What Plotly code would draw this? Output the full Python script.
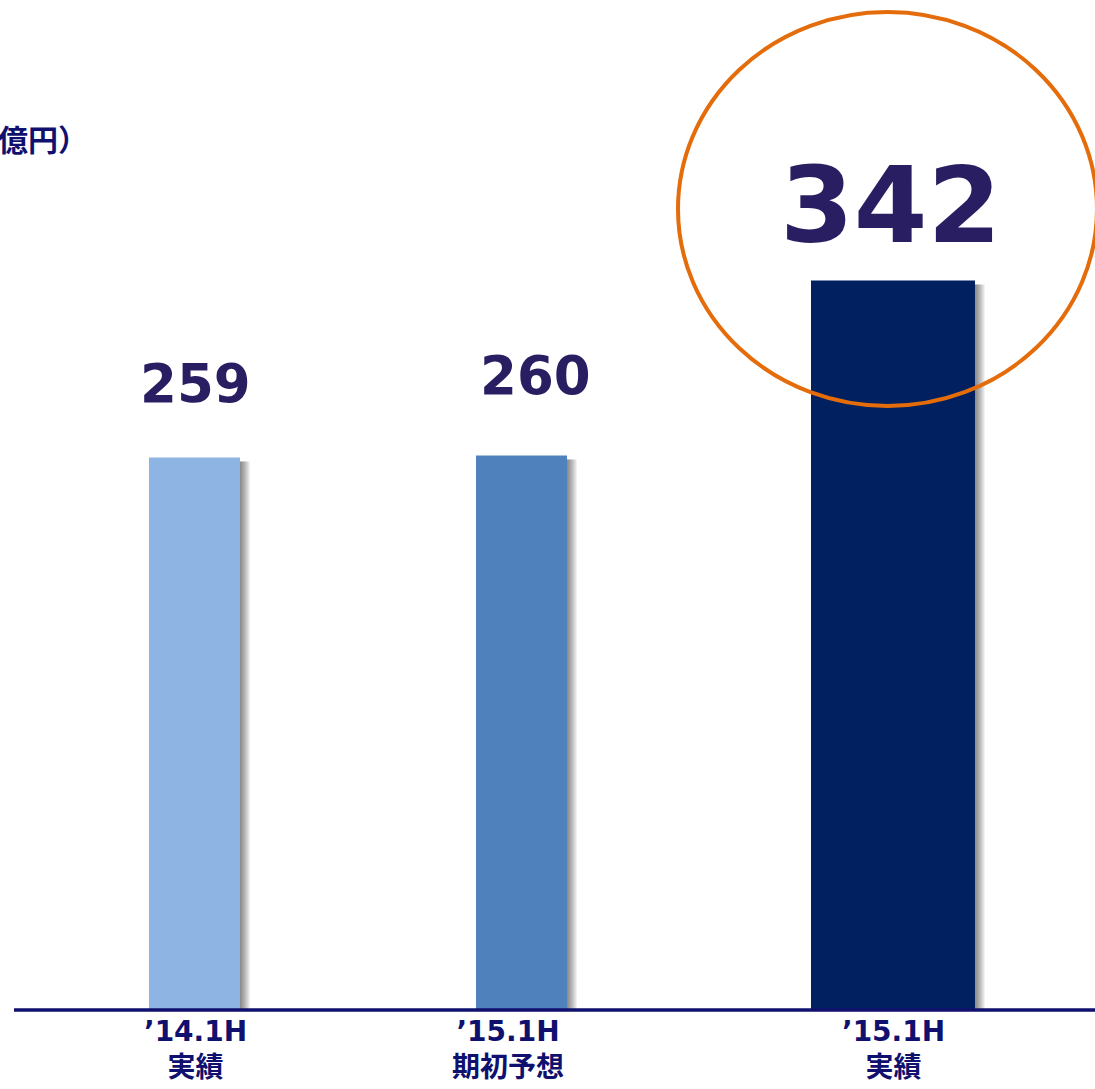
import plotly.graph_objects as go

categories = ["’14.1H<br>実績", "’15.1H<br>期初予想", "’15.1H<br>実績"]
values = [259, 260, 342]
value_labels = ["259", "260", "342"]
bar_colors = ["#8EB4E3", "#4F81BD", "#002060"]

# layout / style (not data)
bar_widths = [0.2783, 0.2783, 0.5015]
bar_offsets = [-0.1391, -0.1391, -0.1147]
label_font_sizes = [53, 53, 106]
label_xshift = [0.5, 14, 41.5]
label_yshift = [74, 80, 75]
tick_xshift = [0.5, -13.5, 44.5]

W, H = 1095, 1089
BOTTOM = 79
px_per_unit = 2.133
ymax = (H - BOTTOM) / px_per_unit
unit_px = 327.0
x0 = -194.5 / unit_px
x1 = x0 + W / unit_px

fig = go.Figure()

# soft blurred shadow (layered translucent copies)
for k in range(10, 0, -1):
    dx = k
    fig.add_trace(go.Bar(
        x=categories, y=[v + (k - 4) / px_per_unit for v in values],
        base=-k / px_per_unit,
        width=bar_widths,
        offset=[o + dx / unit_px for o in bar_offsets],
        marker=dict(color="rgba(0,0,0,0.055)", line=dict(width=0)),
        hoverinfo="skip", showlegend=False,
    ))

fig.add_trace(go.Bar(
    x=categories, y=values,
    width=bar_widths, offset=bar_offsets,
    marker=dict(color=bar_colors, line=dict(width=0)),
    showlegend=False,
))

FONT = "DejaVu Sans, Noto Sans CJK JP, sans-serif"

annotations = []
for i, c in enumerate(categories):
    annotations.append(dict(
        x=c, y=values[i], xref="x", yref="y", text=f"<b>{value_labels[i]}</b>",
        showarrow=False, xanchor="center", yanchor="middle",
        xshift=label_xshift[i], yshift=label_yshift[i],
        font=dict(family=FONT, size=label_font_sizes[i], color="#2A1E62"),
    ))
    annotations.append(dict(
        x=c, y=0, xref="x", yref="y", text=f"<b>{c}</b>",
        showarrow=False, xanchor="center", yanchor="top",
        xshift=tick_xshift[i], yshift=-4, borderpad=0,
        font=dict(family=FONT, size=28, color="#10106E"),
    ))

annotations.append(dict(
    x=90 / W, y=(H - BOTTOM - 140) / (H - BOTTOM), xref="paper", yref="paper",
    text="<b>（億円）</b>", showarrow=False, xanchor="right", yanchor="middle",
    font=dict(family=FONT, size=30, color="#10106E"),
))

plot_h = H - BOTTOM
shapes = [
    dict(type="line", xref="paper", yref="paper",
         x0=14 / W, x1=1.0, y0=0, y1=0,
         line=dict(color="#10106E", width=3.5), layer="above"),
    dict(type="circle", xref="paper", yref="paper",
         x0=678 / W, x1=1097 / W,
         y0=(plot_h - 406) / plot_h, y1=(plot_h - 12) / plot_h,
         line=dict(color="#E46C0A", width=4), layer="above"),
]

fig.update_layout(
    width=W, height=H,
    margin=dict(l=0, r=0, t=0, b=BOTTOM),
    paper_bgcolor="white", plot_bgcolor="white",
    barmode="overlay",
    xaxis=dict(type="category", range=[x0, x1], showticklabels=False,
               showgrid=False, zeroline=False, showline=False, fixedrange=True),
    yaxis=dict(range=[0, ymax], showticklabels=False, showgrid=False,
               zeroline=False, showline=False, fixedrange=True),
    annotations=annotations,
    shapes=shapes,
)

fig.write_html("out.html", config={"displayModeBar": False},
               post_script="document.body.style.margin='0';")
